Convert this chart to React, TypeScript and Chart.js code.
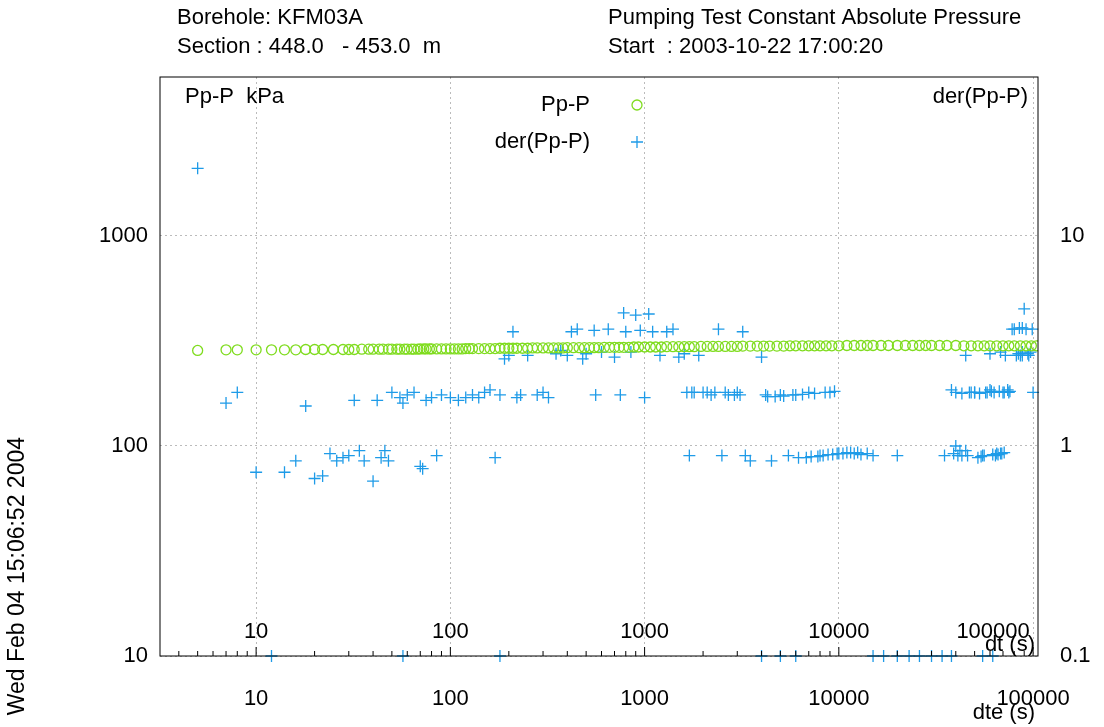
import React, { useEffect, useRef } from "react";
import { Chart, registerables } from "chart.js";
Chart.register(...registerables);

const ppTimes = [5,7,8,10,12,14,16,18,20,22,25,28,30,32,35,38,40,43,45,48,50,53,55,58,60,63,65,68,70,73,75,78,80,85,90,95,100,105,110,115,120,125,130,140,150,160,170,180,190,200,210,220,235,250,265,280,300,320,340,360,380,400,430,460,490,520,550,580,620,660,700,740,780,830,880,930,1000,1070,1140,1220,1300,1400,1500,1600,1700,1800,1950,2100,2250,2400,2600,2800,3000,3200,3500,3800,4100,4400,4800,5200,5600,6000,6500,7000,7500,8000,8600,9200,10000,11000,12000,13000,14000,15000,16500,18000,20000,22000,24000,26000,28000,30000,33000,36000,40000,44000,48000,52000,56000,60000,65000,70000,75000,80000,86000,92000,98000,104000];
const ppValues = [285,287,287,287,287,287,287,288,288,288,288,288,288,288,289,289,289,289,289,289,289,289,289,289,289,289,289,289,290,290,290,290,290,290,290,290,290,290,290,290,291,291,291,291,291,291,291,292,292,292,292,292,292,292,293,293,293,293,293,293,293,294,294,294,294,294,294,294,295,295,295,295,295,295,296,296,296,296,296,296,297,297,297,297,297,297,298,298,298,298,298,298,298,299,299,299,299,299,299,299,300,300,300,300,300,300,300,300,300,301,301,301,301,301,301,301,301,301,301,301,301,301,301,301,301,300,300,300,300,300,300,300,300,300,300,300,300,300];

const derTimes = [5,7,8,10,12,14,16,18,20,22,24,26,28,30,32,34,36,40,42,44,46,48,50,55,57,60,65,70,72,75,80,85,90,100,110,120,130,140,150,160,170,180,190,200,210,220,230,250,280,300,320,350,370,400,420,450,480,500,550,560,600,650,700,750,780,800,850,900,950,1000,1050,1100,1200,1300,1400,1500,1700,1800,1900,2000,2200,2400,2500,2700,3000,3200,3300,3500,4000,4200,4500,5000,5500,6000,7000,8000,9000,10000,11000,12000,13000,14000,15000,20000,35000,38000,40000,42000,45000,48000,50000,55000,58000,60000,65000,70000,72000,75000,80000,85000,88000,90000,92000,95000,100000,57,180,4000,5000,6000,15000,17000,20000,23000,26000,30000,34000,38000,55000,62000,
  1600,1650,1750,2100,2300,2600,2900,3100,4300,4700,5200,5800,6500,7500,8500,9500,6200,6800,7200,7800,8300,8800,9300,9800,10500,11500,12500,39000,41000,43000,46000,52000,54000,56000,62000,64000,66000,68000,69000,71000,40000,43000,47000,50000,53000,57000,61000,63000,67000,71000,74000,76000,82000,84000,86000,88000,94000,97000,45000,60000,68000,78000,88000,99000];
const derValues = [21,1.6,1.8,0.75,0.1,0.75,0.85,1.55,0.7,0.72,0.92,0.85,0.88,0.9,1.65,0.95,0.85,0.68,1.65,0.88,0.95,0.85,1.8,1.7,1.6,1.75,1.8,0.8,0.78,1.65,1.7,0.9,1.75,1.7,1.65,1.7,1.75,1.7,1.8,1.85,0.88,1.75,2.6,2.7,3.5,1.7,1.75,2.7,1.75,1.8,1.7,2.75,2.85,2.7,3.5,3.6,2.6,2.75,3.55,1.75,2.8,3.6,2.65,1.75,4.3,3.5,2.8,4.2,3.55,1.7,4.25,3.5,2.7,3.5,3.6,2.65,0.9,1.8,2.7,1.8,1.75,3.6,0.9,1.75,1.8,3.5,0.9,0.85,2.65,1.75,0.85,1.75,0.9,1.75,1.8,0.9,1.8,0.92,0.93,0.92,0.91,0.92,0.9,0.9,0.9,1.85,1.0,0.95,0.95,1.8,1.8,0.9,1.8,1.85,0.92,1.8,2.7,1.8,3.6,3.65,2.7,4.5,3.6,2.7,1.8,0.1,0.1,0.1,0.1,0.1,0.1,0.1,0.1,0.1,0.1,0.1,0.1,0.1,0.1,0.1,
  2.75,1.8,1.8,1.8,1.8,1.8,1.75,1.75,1.72,1.72,1.73,1.75,1.76,1.78,1.8,1.82,0.88,0.88,0.89,0.89,0.9,0.91,0.91,0.92,0.92,0.93,0.93,0.92,0.9,0.9,0.9,0.88,0.89,0.9,0.91,0.9,0.91,0.92,0.92,0.93,1.8,1.78,1.8,1.8,1.78,1.8,1.82,1.8,1.82,1.8,1.85,1.82,2.7,2.75,2.7,2.8,2.75,2.8,2.7,2.75,2.8,3.6,3.65,3.6];

const xTickLabels = [10, 100, 1000, 10000, 100000];
const font = "Liberation Sans, Arial, sans-serif";

export default function App() {
  const ref = useRef<HTMLCanvasElement>(null);
  useEffect(() => {
    document.body.style.margin = "0";
    const isMajor = (v: number) => Math.abs(Math.log10(v) - Math.round(Math.log10(v))) < 1e-6;
    const overlay = {
      id: "overlay",
      afterDraw(chart: any) {
        const { ctx, chartArea: a, scales } = chart;
        const x = scales.x;
        ctx.save();
        ctx.strokeStyle = "#000"; ctx.lineWidth = 1;
        ctx.strokeRect(a.left, a.top, a.right - a.left, a.bottom - a.top);
        ctx.beginPath();
        for (let e = 0; e <= 5; e++) for (let m = 1; m <= 9; m++) {
          const v = m * Math.pow(10, e);
          const px = x.getPixelForValue(v);
          if (px < a.left || px > a.right) continue;
          const len = m === 1 ? 9 : 5;
          ctx.moveTo(px, a.bottom); ctx.lineTo(px, a.bottom - len);
        }
        ctx.stroke();
        ctx.fillStyle = "#000";
        ctx.font = `22px ${font}`;
        ctx.textAlign = "center"; ctx.textBaseline = "middle";
        xTickLabels.forEach((v) => {
          let px = x.getPixelForValue(v);
          if (v === 100000) px -= 40;
          ctx.fillText(String(v), px, 632);
        });
        ctx.textAlign = "right";
        ctx.fillText("dt (s)", 1035, 645);
        ctx.fillText("dte (s)", 1035, 713);
        ctx.textAlign = "left";
        ctx.fillText("Borehole: KFM03A", 177, 18);
        ctx.fillText("Section : 448.0   - 453.0  m", 177, 47);
        ctx.fillText("Pumping Test Constant Absolute Pressure", 608, 18);
        ctx.fillText("Start  : 2003-10-22 17:00:20", 608, 47);
        ctx.fillText("Pp-P  kPa", 185, 97);
        ctx.textAlign = "right";
        ctx.fillText("der(Pp-P)", 1028, 97);
        ctx.fillText("Pp-P", 590, 105);
        ctx.fillText("der(Pp-P)", 590, 142);
        ctx.strokeStyle = "#7fdc1e"; ctx.lineWidth = 1.3;
        ctx.beginPath(); ctx.arc(637, 105, 5, 0, Math.PI * 2); ctx.stroke();
        ctx.strokeStyle = "#1e9be8";
        ctx.beginPath(); ctx.moveTo(631, 142); ctx.lineTo(643, 142); ctx.moveTo(637, 136); ctx.lineTo(637, 148); ctx.stroke();
        ctx.translate(18, 437); ctx.rotate(-Math.PI / 2);
        ctx.fillStyle = "#000"; ctx.textAlign = "right";
        ctx.font = `23px ${font}`;
        ctx.fillText("Wed Feb 04 15:06:52 2004", 0, 0);
        ctx.restore();
      },
    };
    const gridOpts = {
      color: (c: any) => (c.tick && isMajor(c.tick.value) ? "#bbb" : "rgba(0,0,0,0)"),
      drawTicks: false,
    };
    const chart = new Chart(ref.current!, {
      type: "scatter",
      data: {
        datasets: [
          { label: "Pp-P", data: ppTimes.map((t, i) => ({ x: t, y: ppValues[i] })), yAxisID: "y", pointStyle: "circle", radius: 5, borderColor: "#7fdc1e", backgroundColor: "rgba(0,0,0,0)", borderWidth: 1.3 },
          { label: "der", data: derTimes.map((t, i) => ({ x: t, y: derValues[i] })), yAxisID: "y1", pointStyle: "cross", radius: 6, borderColor: "#1e9be8", borderWidth: 1.3, clip: 8 } as any,
        ],
      },
      options: {
        animation: false, responsive: false,
        layout: { padding: { top: 77, right: 0 } },
        plugins: { legend: { display: false }, tooltip: { enabled: false } },
        scales: {
          x: { type: "logarithmic", min: 3.2, max: 106000, border: { display: false, dash: [2, 3] },
            grid: gridOpts,
            ticks: { padding: 30, autoSkip: false, maxRotation: 0, font: { size: 22, family: font }, color: "#000", callback: (v: any) => (isMajor(v) ? String(v) : "") },
            afterFit: (s: any) => { s.height = 71; } },
          y: { type: "logarithmic", position: "left", min: 10, max: 5715, border: { display: false, dash: [2, 3] },
            grid: gridOpts,
            ticks: { padding: 12, autoSkip: false, font: { size: 22, family: font }, color: "#000", callback: (v: any) => (isMajor(v) ? String(v) : "") },
            afterFit: (s: any) => { s.width = 160; } },
          y1: { type: "logarithmic", position: "right", min: 0.1, max: 57.15, border: { display: false },
            grid: { display: false, drawTicks: false },
            ticks: { padding: 22, autoSkip: false, font: { size: 22, family: font }, color: "#000", callback: (v: any) => (isMajor(v) ? String(v) : "") },
            afterFit: (s: any) => { s.width = 66; } },
        },
      },
      plugins: [overlay],
    });
    return () => chart.destroy();
  }, []);
  return <canvas ref={ref} width={1104} height={727} style={{ display: "block" }} />;
}
